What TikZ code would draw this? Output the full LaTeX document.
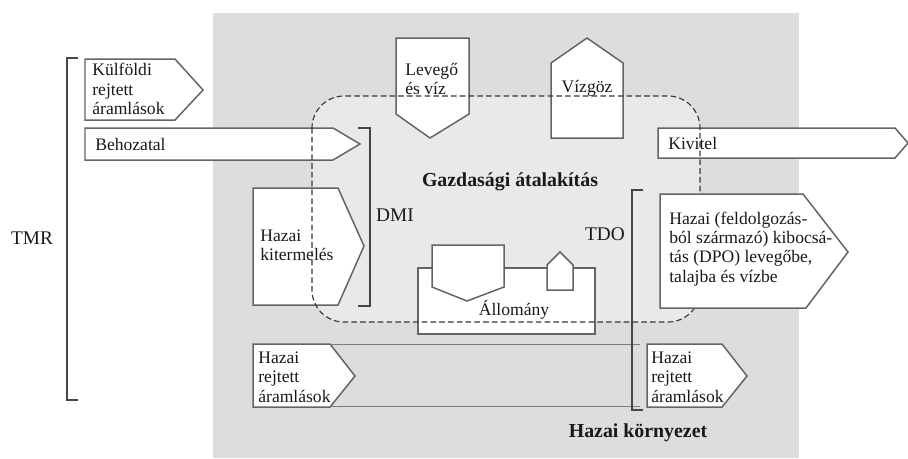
\documentclass[tikz,border=0pt]{standalone}
\usepackage{fontspec}
\setmainfont{Liberation Serif}
\usetikzlibrary{calc}
\usetikzlibrary{positioning}

\definecolor{envgray}{RGB}{221,221,221}
\definecolor{ecogray}{RGB}{233,233,233}
\definecolor{boxline}{RGB}{100,100,100}
\definecolor{brackline}{RGB}{70,70,70}
\definecolor{txtcol}{RGB}{25,25,25}

\begin{document}
\begin{tikzpicture}[x=0.02cm, y=-0.02cm]
    \tikzset{
        every node/.style={font=\fontsize{10}{11}\selectfont, text=txtcol, inner sep=0pt},
        flow/.style={draw=boxline, fill=white, line width=0.85pt},
        bracket/.style={draw=brackline, line width=1.1pt},
        label/.style={font=\fontsize{11}{12}\selectfont},
        title/.style={font=\fontsize{11.3}{13}\selectfont\bfseries},
        boundary/.style={draw=black!78, dash pattern=on 3.2pt off 1.8pt, line width=0.65pt, rounded corners=0.64cm},
        hidden/.style={draw=boxline!85, line width=0.5pt}
    }
    \useasboundingbox (0,0) rectangle (908,458);

    % draw environment and economy areas
    \fill[envgray] (213,13) rectangle (799,458);
    \fill[ecogray, rounded corners=0.64cm] (312,96) rectangle (700,322);

    % draw inputs
    \draw[flow] (85,59) -- (175,59) -- (203,90) -- (175,120) -- (85,120) -- cycle;
    \node[anchor=west, align=left] (kulf) at (92,89) {Külföldi\\rejtett\\áramlások};
    \draw[flow] (85,128) -- (333,128) -- (360,144) -- (333,160) -- (85,160) -- cycle;
    \node[anchor=west] (beh) at (95,144) {Behozatal};
    \draw[flow] (253,188) -- (338,188) -- (364,246) -- (338,305) -- (253,305) -- cycle;
    \node[anchor=west, align=left] (kit) at (260,245) {Hazai\\kitermelés};

    % draw air and water / water vapour
    \draw[flow] (396,38) -- (469,38) -- (469,114) -- (430,138) -- (396,114) -- cycle;
    \node[anchor=west, align=left] (lev) at (405,79) {Levegő\\és víz};
    \draw[flow] (551,63) -- (587,38) -- (623,63) -- (623,138) -- (551,138) -- cycle;
    \node (viz) at (587,88) {Vízgöz};

    % draw stock
    \draw[flow] (418,268) rectangle (595,334);
    \draw[flow] (432,245) -- (504,245) -- (504,287) -- (467,301) -- (432,287) -- cycle;
    \draw[flow] (547,265) -- (560,252) -- (573,265) -- (573,290) -- (547,290) -- cycle;
    \node (allo) at (514,310) {Állomány};

    % draw hidden flows
    \draw[flow] (253,344) -- (330,344) -- (355,376) -- (330,407) -- (253,407) -- cycle;
    \node[anchor=west, align=left] (hrl) at (258,377) {Hazai\\rejtett\\áramlások};
    \draw[flow] (647,344) -- (722,344) -- (747,376) -- (722,407) -- (647,407) -- cycle;
    \node[anchor=west, align=left] (hrr) at (651,377) {Hazai\\rejtett\\áramlások};
    \coordinate (hrtop) at (330,344);
    \coordinate (hrbot) at (330,406);
    \coordinate (hrtopend) at (640,344);
    \coordinate (hrbotend) at (640,406);
    \draw[hidden] (hrtop) -- (hrtopend);
    \draw[hidden] (hrbot) -- (hrbotend);

    % draw export
    \draw[flow] (658,128) -- (895,128) -- (908,143) -- (895,158) -- (658,158) -- cycle;
    \node[anchor=west] (kiv) at (668,143) {Kivitel};

    % draw economy boundary
    \draw[boundary] (312,96) rectangle (700,322);

    % draw outputs
    \draw[flow] (660,194) -- (803,194) -- (848,252) -- (806,308) -- (660,308) -- cycle;
    \node[anchor=west, align=left] (dpo) at (669,249) {Hazai (feldolgozás-\\ból származó) kibocsá-\\tás (DPO) levegőbe,\\talajba és vízbe};

    % draw brackets
    \draw[bracket] (78,58) -- (67,58) -- (67,400) -- (78,400);
    \node[label] (tmr) at (32,238) {TMR};
    \draw[bracket] (358,128) -- (370,128) -- (370,306) -- (358,306);
    \node[label] (dmi) at (395,215) {DMI};
    \draw[bracket] (643,190) -- (632,190) -- (632,410) -- (643,410);
    \node[label] (tdo) at (605,234) {TDO};

    % titles
    \node[title] (gazd) at (510,182) {Gazdasági átalakítás};
    \node[title] (korny) at (638,433) {Hazai környezet};
\end{tikzpicture}
\end{document}
